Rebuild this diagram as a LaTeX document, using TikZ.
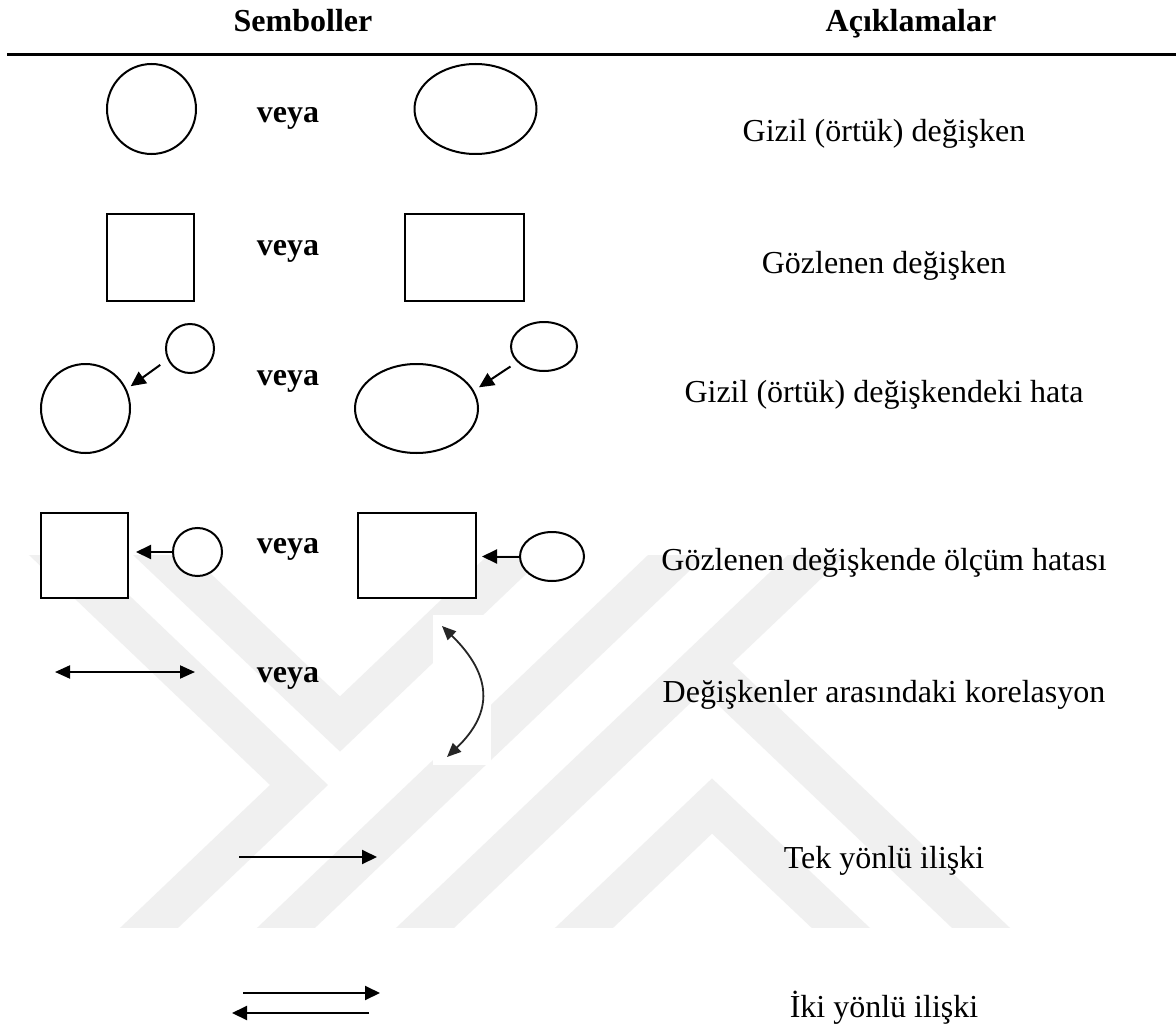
\documentclass[tikz,border=0pt]{standalone}
\usepackage{fontspec}
\setmainfont{Liberation Serif}
\usetikzlibrary{arrows.meta,shapes.geometric}
\begin{document}
\begin{tikzpicture}[x=1pt,y=-1pt,
  oval/.style={draw,line width=2pt,fill=white,ellipse,inner sep=0pt,outer sep=0pt},
  box/.style={draw,line width=2.2pt,fill=white,rectangle,inner sep=0pt,outer sep=0pt},
  arr/.style={line width=2pt,-{Triangle[length=15pt,width=14pt]}},
  arrs/.style={line width=2pt,{Triangle[length=15pt,width=13pt]}-{Triangle[length=15pt,width=13pt]}},
  curvearr/.style={line width=1.8pt,black!85,{Triangle[length=14pt,width=12pt]}-{Triangle[length=14pt,width=12pt]}},
  wm/.style={line width=40pt,black!6,line join=miter},
  lbl/.style={anchor=base,font=\fontsize{32}{38}\selectfont},
  hdr/.style={anchor=base,font=\fontsize{32}{38}\selectfont\bfseries}]

\fill[white] (0,0) rectangle (1176,1030);
\useasboundingbox (0,0) rectangle (1176,1030);

% faint background emblem
\begin{scope}
  \clip (0,555) rectangle (1176,927);
  \draw[wm] (37,535) -- (299,785) -- (129,947);
  \draw[wm] (141,535) -- (340,724) -- (538,535);
  \draw[wm] (698,535) -- (266,947);
  \draw[wm] (838,535) -- (405,947);
  \draw[wm] (703,663) -- (1001,947);
  \draw[wm] (564,947) -- (712,806) -- (861,947);
\end{scope}

% headings and rule
\node[hdr] (h1) at (303,32) {Semboller};
\node[hdr] (h2) at (911,32) {Açıklamalar};
\coordinate (r1) at (7,55);
\coordinate (r2) at (1176,55);
\draw[line width=3pt] (r1) -- (r2);

% latent variable
\node[oval,minimum width=89pt,minimum height=90pt] (c1) at (151.5,109) {};
\node[oval,minimum width=122pt,minimum height=90pt] (e1) at (475.5,109) {};
\node[hdr] (v1) at (288,123) {veya};
\node[lbl] (t1) at (884,142) {Gizil (örtük) değişken};

% observed variable
\node[box,minimum width=87pt,minimum height=87pt] (q1) at (150.5,257.5) {};
\node[box,minimum width=119pt,minimum height=87pt] (q2) at (464.5,257.5) {};
\node[hdr] (v2) at (288,255) {veya};
\node[lbl] (t2) at (884,273) {Gözlenen değişken};

% error in latent variable
\node[oval,minimum width=89pt,minimum height=89pt] (c3) at (85.5,408.5) {};
\node[oval,minimum width=48pt,minimum height=49pt] (s3) at (190,348.5) {};
\draw[arr,shorten <=10pt,shorten >=6pt] (s3.206) -- (c3.25);
\node[oval,minimum width=123pt,minimum height=89pt] (e3) at (416.5,408.5) {};
\node[oval,minimum width=66pt,minimum height=49pt] (s3b) at (544,346.5) {};
\draw[arr,shorten <=9pt,shorten >=7pt] (s3b.210) -- (e3.17);
\node[hdr] (v3) at (288,385) {veya};
\node[lbl] (t3) at (884,402) {Gizil (örtük) değişkendeki hata};

% measurement error in observed variable
\node[box,minimum width=87pt,minimum height=85pt] (r4) at (84.5,555.5) {};
\node[oval,minimum width=49pt,minimum height=48pt] (c4) at (197.5,552) {};
\draw[arr,shorten >=8pt] (c4.west) -- (c4.west -| r4.east);
\node[box,minimum width=118pt,minimum height=85pt] (r4b) at (417,555.5) {};
\node[oval,minimum width=64pt,minimum height=49pt] (e4) at (552,556.5) {};
\draw[arr,shorten >=6pt] (e4.west) -- (e4.west -| r4b.east);
\node[hdr] (v4) at (288,553) {veya};
\node[lbl] (t4) at (884,570) {Gözlenen değişkende ölçüm hatası};

% correlation
\coordinate (d1) at (55,672);
\coordinate (d2) at (195,672);
\draw[arrs] (d1) -- (d2);
\node[hdr] (v5) at (288,682) {veya};
\fill[white] (433,615) rectangle (491,765);
\coordinate (k1) at (442,626);
\coordinate (k2) at (447,757);
\draw[curvearr] (k1) .. controls (492,675) and (494,712) .. (k2);
\node[lbl] (t5) at (884,702) {Değişkenler arasındaki korelasyon};

% one-way relation
\coordinate (a1) at (239,857);
\coordinate (a2) at (377,857);
\draw[arr] (a1) -- (a2);
\node[lbl] (t6) at (884,868) {Tek yönlü ilişki};

% two-way relation
\coordinate (b1) at (243,993);
\coordinate (b2) at (380,993);
\coordinate (b3) at (369,1013);
\coordinate (b4) at (232,1013);
\draw[arr] (b1) -- (b2);
\draw[arr] (b3) -- (b4);
\node[lbl] (t7) at (884,1017) {İki yönlü ilişki};
\end{tikzpicture}
\end{document}
